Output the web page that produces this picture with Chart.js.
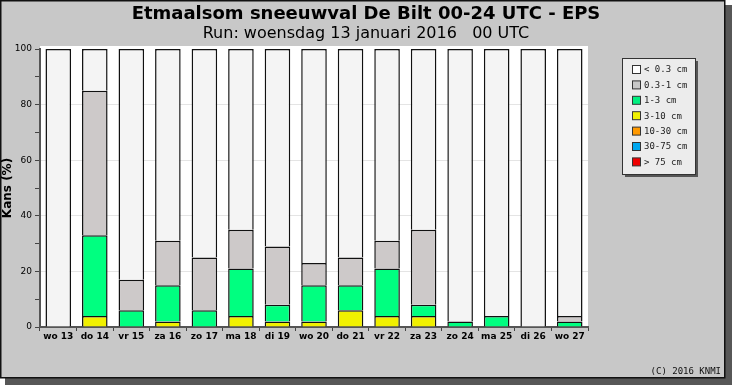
<!DOCTYPE html>
<html lang="nl">
<head>
<meta charset="UTF-8">
<title>Etmaalsom sneeuwval De Bilt</title>
<script src="https://cdn.jsdelivr.net/npm/chart.js"></script>
<style>
  html, body { margin: 0; padding: 0; background: #fff; }
  canvas { display: block; }
</style>
</head>
<body>
<canvas id="grafiek" width="732" height="385"></canvas>
<script>
// dagen
const dagen = ['wo 13','do 14','vr 15','za 16','zo 17','ma 18','di 19','wo 20','do 21','vr 22','za 23','zo 24','ma 25','di 26','wo 27']

const klasseRood   = [0,0,0,0,0,0,0,0,0,0,0,0,0,0,0]          // > 75 cm
const klasseBlauw  = [0,0,0,0,0,0,0,0,0,0,0,0,0,0,0]          // 30-75 cm
const klasseOranje = [0,0,0,0,0,0,0,0,0,0,0,0,0,0,0]          // 10-30 cm
const klasseGeel   = [0,4,0,2,0,4,2,2,6,4,4,0,0,0,0]          // 3-10 cm
const klasseGroen  = [0,29,6,13,6,17,6,13,9,17,4,2,4,0,2]     // 1-3 cm
const klasseGrijs  = [0,52,11,16,19,14,21,8,10,10,27,0,0,0,2] // 0.3-1 cm
const klasseWit    = [100,15,83,69,75,65,71,77,75,69,65,98,96,100,96] // < 0.3 cm

const yTicks = [0,20,40,60,80,100]

const titel = 'Etmaalsom sneeuwval De Bilt 00-24 UTC - EPS'
const ondertitel = 'Run: woensdag 13 januari 2016   00 UTC'

function reeks(label, data, kleur, legendaKleur){
  return {
    label: label,
    data: data,
    backgroundColor: kleur,
    legendaKleur: legendaKleur,
    borderColor: '#111',
    borderWidth: c => (c.raw > 0 ? 1.5 : 0),
    borderSkipped: 'start',
    barPercentage: 0.7,
    categoryPercentage: 1.0
  }
}

const kader = {
  id: 'kader',
  beforeDraw(chart){
    const c = chart.ctx
    c.save()
    c.fillStyle = '#fff'
    c.fillRect(0,0,732,385)
    // schaduw
    c.fillStyle = '#575757'
    c.fillRect(5,5,727,380)
    // paneel
    c.fillStyle = '#c8c8c8'
    c.fillRect(0,0,725,378)
    c.strokeStyle = '#111'
    c.lineWidth = 1.5
    c.strokeRect(0.75,0.75,724,377)
    // plotvlak
    const a = chart.chartArea
    c.fillStyle = '#fff'
    c.fillRect(a.left, a.top-3, a.right-a.left, a.bottom-a.top+3)
    c.restore()
  },
  afterDraw(chart){
    const c = chart.ctx
    c.save()
    c.fillStyle = '#000'
    c.textAlign = 'center'
    c.textBaseline = 'alphabetic'
    c.font = 'bold 18px "DejaVu Sans"'
    c.fillText(titel, 366, 19)
    c.font = '16px "DejaVu Sans"'
    c.fillText(ondertitel, 366, 38)

    // legenda
    const lx = 622, ly = 58, lw = 73, lh = 116
    c.fillStyle = '#555'
    c.fillRect(lx+3, ly+3, lw, lh)
    c.fillStyle = '#ececec'
    c.fillRect(lx, ly, lw, lh)
    c.strokeStyle = '#333'
    c.lineWidth = 1
    c.strokeRect(lx+0.5, ly+0.5, lw, lh)
    c.font = '9px "DejaVu Sans Mono"'
    c.textAlign = 'left'
    c.textBaseline = 'middle'
    const sets = chart.data.datasets.slice().reverse()
    sets.forEach((d, i) => {
      const y = 70 + i*15.4
      c.fillStyle = d.legendaKleur
      c.fillRect(632.5, y-4.5, 8, 8)
      c.strokeStyle = '#333'
      c.strokeRect(632.5, y-4.5, 8, 8)
      c.fillStyle = '#222'
      c.fillText(d.label, 644, y)
    })

    c.textAlign = 'right'
    c.font = '9px "DejaVu Sans Mono"'
    c.fillStyle = '#111'
    c.fillText('(C) 2016 KNMI', 721, 372)
    c.restore()
  }
}

const grafiek = new Chart(document.getElementById('grafiek'), {
  type: 'bar',
  data: {
    labels: dagen,
    datasets: [
      reeks('> 75 cm', klasseRood, '#f00000', '#f00000'),
      reeks('30-75 cm', klasseBlauw, '#00a8f0', '#00a8f0'),
      reeks('10-30 cm', klasseOranje, '#ff9900', '#ff9900'),
      reeks('3-10 cm', klasseGeel, '#f0f000', '#f0f000'),
      reeks('1-3 cm', klasseGroen, '#00ff80', '#00f080'),
      reeks('0.3-1 cm', klasseGrijs, '#cdc9c9', '#c8c8c8'),
      reeks('< 0.3 cm', klasseWit, '#f4f4f4', '#ffffff')
    ]
  },
  options: {
    responsive: false,
    devicePixelRatio: 1,
    animation: false,
    layout: { padding: { left: 0, top: 49, right: 144, bottom: 38 } },
    plugins: {
      legend: { display: false },
      tooltip: { enabled: false }
    },
    scales: {
      x: {
        stacked: true,
        offset: true,
        grid: { offset: true, drawOnChartArea: false, color: '#444', tickLength: 4 },
        border: { color: '#555', width: 2 },
        ticks: {
          color: '#000',
          padding: 0,
          maxRotation: 0,
          autoSkip: false,
          font: { family: 'DejaVu Sans', size: 9, weight: 'bold' }
        },
        afterFit: s => { s.height = 20 }
      },
      y: {
        stacked: true,
        min: 0,
        max: 100,
        grid: {
          color: c => (yTicks.includes(c.tick.value) && c.tick.value > 0 && c.tick.value < 100) ? '#e4e4e4' : 'rgba(0,0,0,0)',
          tickColor: '#444',
          tickLength: 5
        },
        border: { color: '#555', width: 2 },
        ticks: {
          stepSize: 10,
          padding: 3,
          color: '#000',
          font: { family: 'DejaVu Sans', size: 9 },
          callback: v => (yTicks.includes(v) ? v : '')
        },
        title: {
          display: true,
          text: 'Kans (%)',
          color: '#000',
          padding: { top: 1, bottom: 0 },
          font: { family: 'DejaVu Sans', size: 12, weight: 'bold' }
        },
        afterFit: s => { s.width = 40 }
      }
    }
  },
  plugins: [kader]
})
</script>
</body>
</html>
